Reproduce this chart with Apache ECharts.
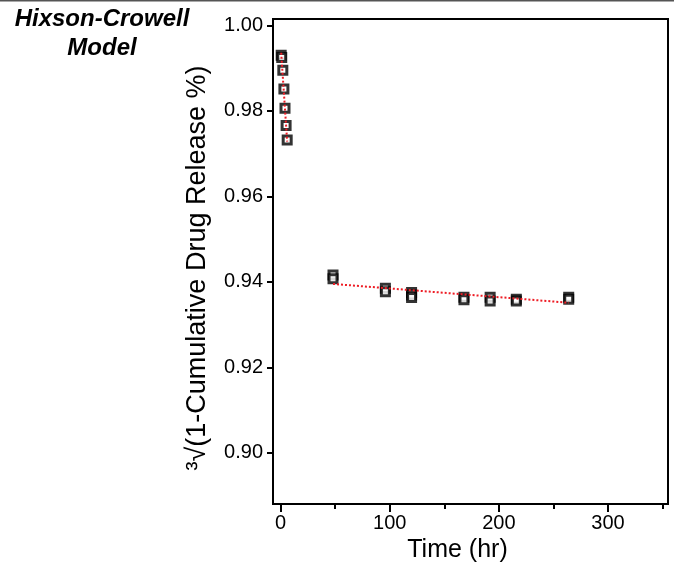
<!DOCTYPE html>
<html>
<head>
<meta charset="utf-8">
<script src="https://cdn.jsdelivr.net/npm/echarts@6/dist/echarts.min.js"></script>
<style>
html,body{margin:0;padding:0;background:#fff;}
#chart{width:674px;height:566px;}
</style>
</head>
<body>
<div id="chart"></div>
<script>
// Observed data (time in hr, cube-root remaining fraction)
const earlyTime  = [0.5, 1, 2, 3, 4, 5, 6];
const earlyValue = [0.9930, 0.9925, 0.9895, 0.9851, 0.9806, 0.9766, 0.9732];
const lateTime   = [48, 48, 96, 96, 120, 120, 120, 168, 168, 192, 192, 216, 216, 264, 264];
const lateValue  = [0.9416, 0.9407, 0.9385, 0.9377, 0.9375, 0.9369, 0.9363, 0.9364, 0.9358, 0.9364, 0.9355, 0.9359, 0.9355, 0.9364, 0.9359];
// Fitted lines
const fitEarlyTime  = [0.5, 6];
const fitEarlyValue = [0.9936, 0.9728];
const fitLateTime   = [48, 264];
const fitLateValue  = [0.9395, 0.9351];
// Ticks
const xTicks = [0, 100, 200, 300];
const xMinorTicks = [50, 150, 250, 350];
const yTicks = [0.90, 0.92, 0.94, 0.96, 0.98, 1.00];

const pairs = (xs, ys) => xs.map((x, i) => [x, ys[i]]);
const FONT = '"Liberation Sans", Arial, sans-serif';
const TITLE_FONT = 'italic bold 24px "Liberation Sans", Arial, sans-serif';

const chart = echarts.init(document.getElementById('chart'), null, {renderer: 'canvas'});
chart.setOption({
  animation: false,
  backgroundColor: '#fff',
  graphic: [
    {type: 'rect', shape: {x: 0, y: 0, width: 674, height: 1.5}, style: {fill: '#555'}, silent: true},
    {type: 'text', x: 102, y: 19, style: {text: 'Hixson-Crowell', font: TITLE_FONT, fill: '#000', align: 'center', verticalAlign: 'middle'}},
    {type: 'text', x: 102, y: 48, style: {text: 'Model', font: TITLE_FONT, fill: '#000', align: 'center', verticalAlign: 'middle'}}
  ],
  grid: {left: 273, right: 6, top: 19, bottom: 62, outerBoundsMode: 'none', containLabel: false,
         show: true, borderColor: '#000', borderWidth: 2, backgroundColor: 'transparent'},
  xAxis: [
    {
      type: 'value', min: -7, max: 355,
      name: 'Time (hr)', nameLocation: 'middle', nameGap: 34,
      nameTextStyle: {fontFamily: FONT, fontSize: 25, color: '#000', padding: [0, 26, 0, 0]},
      axisLine: {show: true, onZero: false, lineStyle: {color: '#000', width: 2}},
      axisTick: {show: true, customValues: xTicks, length: 8, lineStyle: {color: '#000', width: 2}},
      axisLabel: {show: true, customValues: xTicks, margin: 9, fontFamily: FONT, fontSize: 20, color: '#000'},
      splitLine: {show: false}
    },
    {
      type: 'value', min: -7, max: 355, position: 'bottom',
      axisLine: {show: false},
      axisTick: {show: true, customValues: xMinorTicks, length: 5, lineStyle: {color: '#000', width: 2}},
      axisLabel: {show: false},
      splitLine: {show: false}
    }
  ],
  yAxis: {
    type: 'value', min: 0.888, max: 1.0015,
    name: '³√(1-Cumulative Drug Release %)', nameLocation: 'middle', nameGap: 62,
    nameTextStyle: {fontFamily: FONT, fontSize: 27, color: '#000', padding: [0, 13, 0, 0]},
    axisLine: {show: true, onZero: false, lineStyle: {color: '#000', width: 2}},
    axisTick: {show: true, customValues: yTicks, length: 6, lineStyle: {color: '#000', width: 2}},
    axisLabel: {show: true, customValues: yTicks, margin: 10, fontFamily: FONT, fontSize: 20, color: '#000',
      formatter: v => v.toFixed(2)},
    splitLine: {show: false}
  },
  series: [
    {
      type: 'scatter', data: pairs(earlyTime, earlyValue), symbol: 'rect', symbolSize: 8,
      itemStyle: {color: '#fff', borderColor: '#000', borderWidth: 3}, z: 2
    },
    {
      type: 'scatter', data: pairs(lateTime, lateValue), symbol: 'rect', symbolSize: 8,
      itemStyle: {color: '#fff', borderColor: '#000', borderWidth: 3}, z: 2
    },
    {
      type: 'line', data: pairs(fitEarlyTime, fitEarlyValue), showSymbol: false, symbol: 'none',
      lineStyle: {color: '#ee1c24', width: 2, type: [2, 2]}, z: 3
    },
    {
      type: 'line', data: pairs(fitLateTime, fitLateValue), showSymbol: false, symbol: 'none',
      lineStyle: {color: '#ee1c24', width: 2, type: [2, 2]}, z: 3
    }
  ]
});
</script>
</body>
</html>
